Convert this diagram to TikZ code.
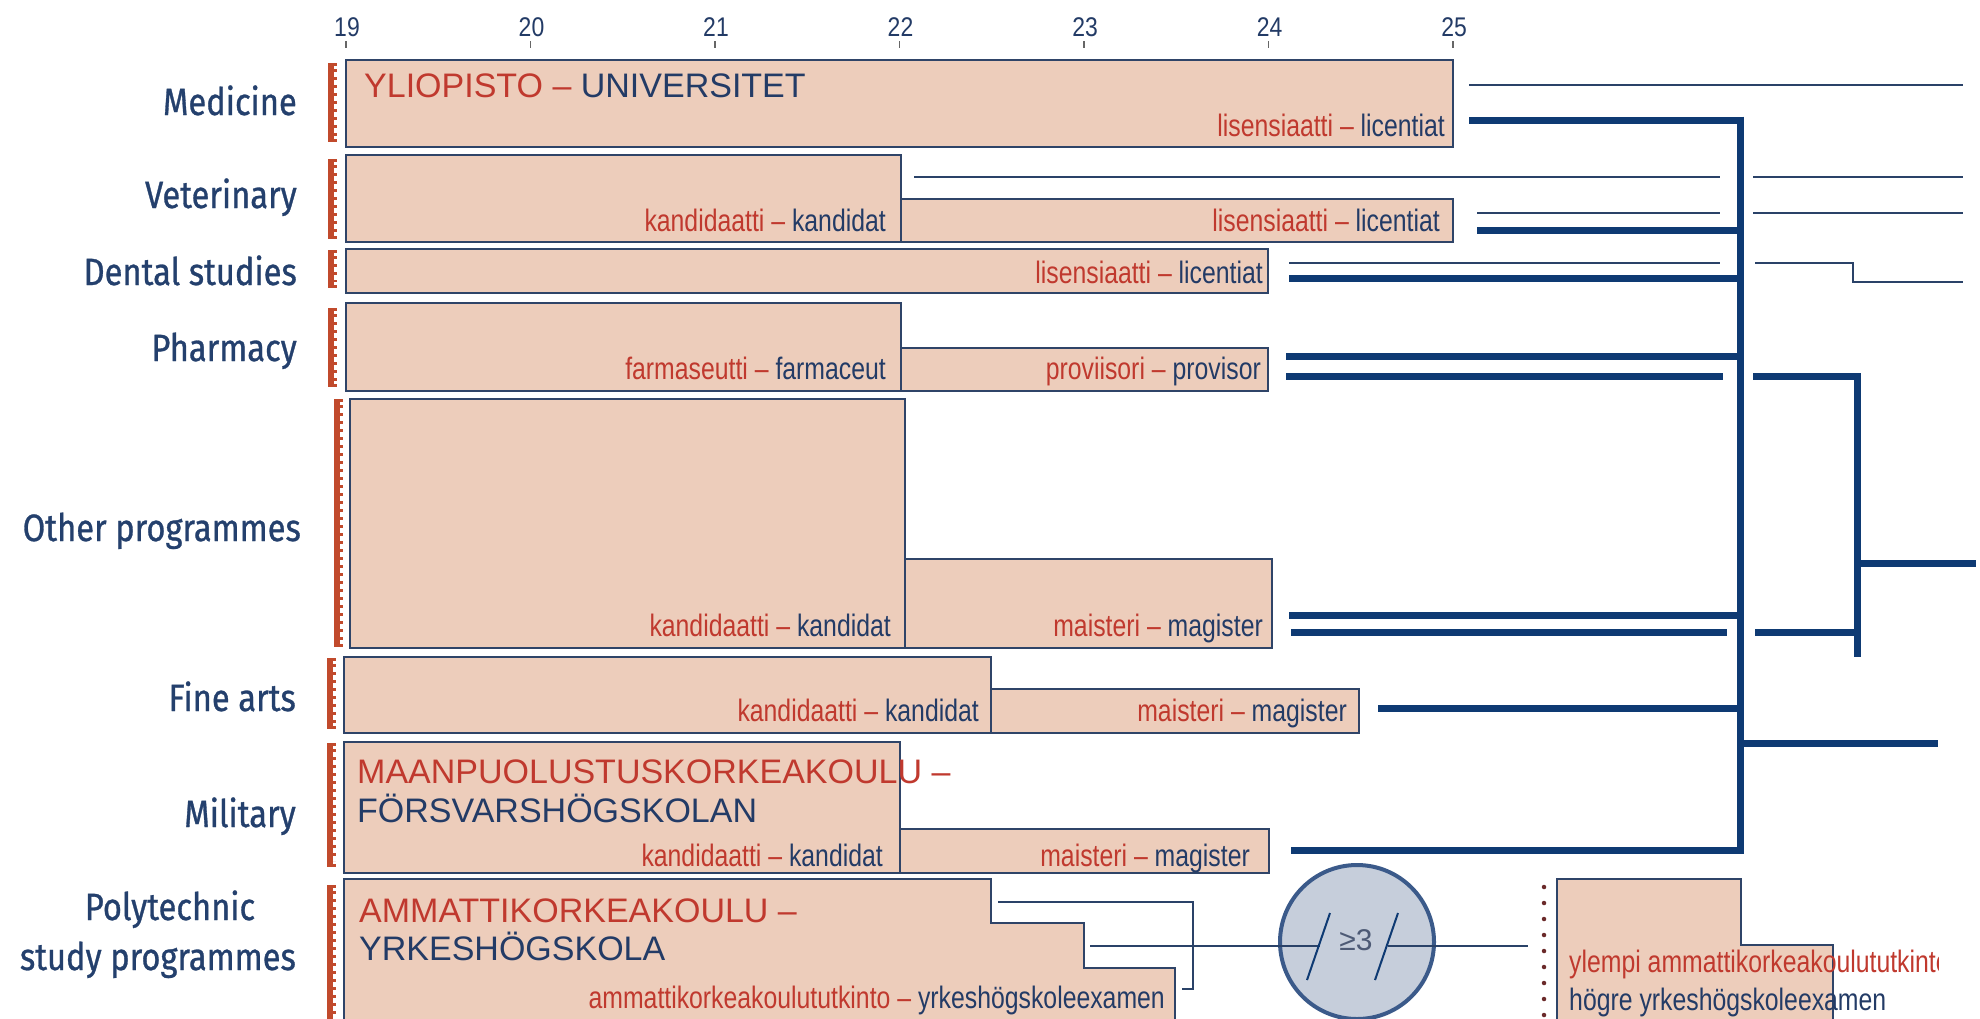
\documentclass[tikz,border=0pt]{standalone}
\usepackage{fontspec}
\setmainfont{Liberation Sans}
\newfontfamily\labfont[FakeStretch=0.86,FakeBold=0.8]{Fira Sans}
\newfontfamily\degfont[FakeStretch=0.8]{Liberation Sans}
\newfontfamily\axfont[FakeStretch=0.85]{Liberation Sans}
\definecolor{boxfill}{HTML}{EDCDBB}
\definecolor{boxline}{HTML}{2F4468}
\definecolor{redtxt}{HTML}{C0392E}
\definecolor{bluetxt}{HTML}{233B66}
\definecolor{navy}{HTML}{0E3A73}
\definecolor{thinc}{HTML}{2A4268}
\definecolor{labtxt}{HTML}{24406D}
\definecolor{brkc}{HTML}{C14A2C}
\definecolor{circfill}{HTML}{C6CEDB}
\definecolor{circline}{HTML}{3B5A8A}
\definecolor{dotc}{HTML}{6B2A2A}
\definecolor{gtxt}{HTML}{4D5A75}
\newcommand\fsv[2]{\textcolor{redtxt}{#1 –} \textcolor{bluetxt}{#2}}
\begin{document}
\begin{tikzpicture}[x=1pt,y=-1pt,
  box/.style={draw=boxline, fill=boxfill, line width=1.8pt},
  thinln/.style={draw=thinc, line width=2pt},
  thickln/.style={draw=navy, line width=7pt},
  lab/.style={font=\labfont\fontsize{38}{40}\selectfont, text=labtxt, inner sep=0pt, anchor=base east},
  deg/.style={font=\degfont\fontsize{31}{33}\selectfont, inner sep=0pt, anchor=base east},
  ttl/.style={font=\fontsize{34}{40}\selectfont, inner sep=0pt, anchor=base west},
  axnum/.style={font=\axfont\fontsize{27}{29}\selectfont, text=bluetxt, inner sep=0pt, anchor=base},
  tickln/.style={draw=gray!80!black, line width=1.2pt}]
\useasboundingbox (0,0) rectangle (1980,1018);
\fill[white] (0,0) rectangle (1980,1018);

% axis
\foreach \v [count=\i from 0] in {19,...,25} {
  \node[axnum] (ax\v) at (347+184.5*\i,36) {\v};
  \draw[tickln] (346+184.5*\i,41) -- (346+184.5*\i,48);
}

% red brackets
\foreach \x/\a/\b in {331/63/142, 331/159/239, 331/250/288, 331/308/387, 337/399/647, 330/658/729, 330/743/867, 330/885/1030} {
  \draw[brkc, line width=6pt] (\x,\a) -- (\x,\b);
  \draw[brkc, line width=3pt] (\x-3,\a+1.5) -- (\x+6,\a+1.5);
  \draw[brkc, line width=3pt] (\x-3,\b-1.5) -- (\x+6,\b-1.5);
  \draw[brkc, line width=3pt, dash pattern=on 3pt off 5pt] (\x+4,\a+6) -- (\x+4,\b-6);
}

% row labels
\node[lab] (lmed) at (297,115) {Medicine};
\node[lab] (lvet) at (297,208) {Veterinary};
\node[lab] (lden) at (297,285) {Dental studies};
\node[lab] (lpha) at (297,361) {Pharmacy};
\node[lab] (loth) at (301,541) {Other programmes};
\node[lab] (lfin) at (296,711) {Fine arts};
\node[lab] (lmil) at (296,827) {Military};
\node[lab, anchor=base] (lpol) at (170,920) {Polytechnic};
\node[lab] (lpol2) at (296,970) {study programmes};

% boxes
\draw[box] (346,60) rectangle (1453,147);
\draw[box] (346,155) rectangle (901,242);
\draw[box] (901,199) rectangle (1453,242);
\draw[box] (346,249) rectangle (1268,293);
\draw[box] (346,303) rectangle (901,391);
\draw[box] (901,348) rectangle (1268,391);
\draw[box] (350,399) rectangle (905,648);
\draw[box] (905,559) rectangle (1272,648);
\draw[box] (344,657) rectangle (991,733);
\draw[box] (991,689) rectangle (1359,733);
\draw[box] (344,742) rectangle (900,873);
\draw[box] (900,829) rectangle (1269,873);
\draw[box] (344,1030) -- (344,879) -- (991,879) -- (991,923) -- (1084,923) -- (1084,968) -- (1175,968) -- (1175,1030);
\draw[box] (1557,1030) -- (1557,879) -- (1741,879) -- (1741,945) -- (1833,945) -- (1833,1030);

% titles
\node[ttl] (tuni) at (364,97) {\textcolor{redtxt}{YLIOPISTO –} \textcolor{bluetxt}{UNIVERSITET}};
\node[ttl, text=redtxt] (tmil1) at (357,783) {MAANPUOLUSTUSKORKEAKOULU –};
\node[ttl, text=bluetxt] (tmil2) at (357,822) {FÖRSVARSHÖGSKOLAN};
\node[ttl, text=redtxt] (tpol1) at (359,922) {AMMATTIKORKEAKOULU –};
\node[ttl, text=bluetxt] (tpol2) at (359,960) {YRKESHÖGSKOLA};

% degree labels
\node[deg] (dmed) at (1445,136) {\fsv{lisensiaatti}{licentiat}};
\node[deg] (dveta) at (886,231) {\fsv{kandidaatti}{kandidat}};
\node[deg] (dvetb) at (1440,231) {\fsv{lisensiaatti}{licentiat}};
\node[deg] (dden) at (1263,283) {\fsv{lisensiaatti}{licentiat}};
\node[deg] (dphaa) at (886,379) {\fsv{farmaseutti}{farmaceut}};
\node[deg] (dphab) at (1261,379) {\fsv{proviisori}{provisor}};
\node[deg] (dotha) at (891,636) {\fsv{kandidaatti}{kandidat}};
\node[deg] (dothb) at (1263,636) {\fsv{maisteri}{magister}};
\node[deg] (dfina) at (979,721) {\fsv{kandidaatti}{kandidat}};
\node[deg] (dfinb) at (1347,721) {\fsv{maisteri}{magister}};
\node[deg] (dmila) at (883,866) {\fsv{kandidaatti}{kandidat}};
\node[deg] (dmilb) at (1250,866) {\fsv{maisteri}{magister}};
\node[deg] (dpol) at (1165,1008) {\fsv{ammattikorkeakoulututkinto}{yrkeshögskoleexamen}};
\begin{scope}
  \clip (1500,860) rectangle (1938,1018);
  \node[deg, anchor=base west, text=redtxt] (dyl1) at (1569,972) {ylempi ammattikorkeakoulututkinto};
  \node[deg, anchor=base west, text=bluetxt] (dyl2) at (1569,1010) {högre yrkeshögskoleexamen};
\end{scope}

% thin lines
\draw[thinln] (1469,85) -- (1963,85);
\draw[thinln] (914,177) -- (1720,177);
\draw[thinln] (1753,177) -- (1963,177);
\draw[thinln] (1477,213) -- (1720,213);
\draw[thinln] (1753,213) -- (1963,213);
\draw[thinln] (1289,263) -- (1720,263);
\draw[thinln] (1755,263) -- (1853,263) -- (1853,282) -- (1963,282);
\draw[thinln] (998,902) -- (1193,902) -- (1193,989) -- (1182,989);

% thick lines
\draw[thickln] (1740,116.5) -- (1740,853.5);
\draw[thickln] (1469,120) -- (1740,120);
\draw[thickln] (1477,230) -- (1740,230);
\draw[thickln] (1289,278) -- (1740,278);
\draw[thickln] (1286,356) -- (1740,356);
\draw[thickln] (1286,376) -- (1723,376);
\draw[thickln, line join=miter] (1753,376) -- (1857,376) -- (1857,657);
\draw[thickln] (1289,615) -- (1740,615);
\draw[thickln] (1291,632) -- (1727,632);
\draw[thickln] (1755,632) -- (1857,632);
\draw[thickln] (1857,563) -- (1976,563);
\draw[thickln] (1378,708) -- (1740,708);
\draw[thickln] (1291,850) -- (1740,850);
\draw[thickln] (1740,743) -- (1938,743);

% circle
\node[circle, draw=circline, line width=4pt, fill=circfill, minimum size=154pt, inner sep=0pt] (circ) at (1357,942) {};
\draw[thinln] (1090,946) -- (1320,946);
\draw[thinln] (1388,946) -- (1528,946);
\draw[draw=navy, line width=2pt] (1330,913) -- (1307,980);
\draw[draw=navy, line width=2pt] (1398,913) -- (1375,980);
\node[font=\fontsize{30}{32}\selectfont, text=gtxt, inner sep=0pt, anchor=base] (ge3) at (1356,950) {≥3};

% dotted line
\draw[dotc, line width=4.5pt, line cap=round, dash pattern=on 0pt off 16pt] (1544,887) -- (1544,1018);
\end{tikzpicture}
\end{document}
